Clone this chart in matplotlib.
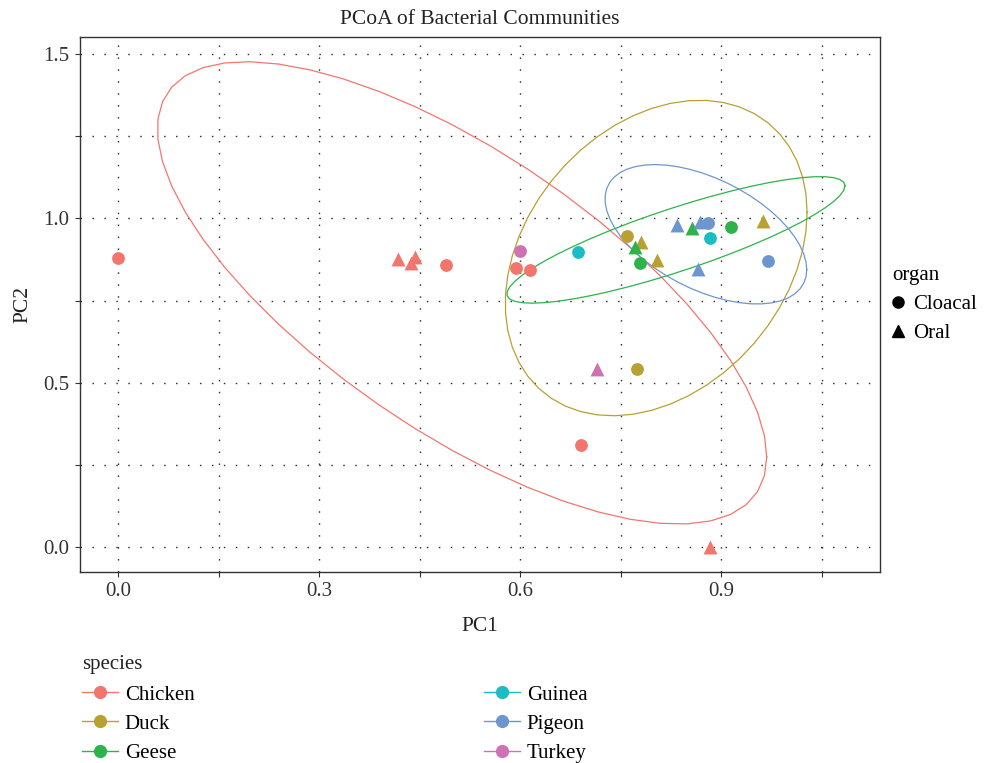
import numpy as np
import matplotlib
matplotlib.use("Agg")
import matplotlib.pyplot as plt
from matplotlib.lines import Line2D

plt.rcParams['font.family'] = ['Liberation Serif', 'DejaVu Serif']

# datos
species = ['Chicken'] * 9 + ['Duck'] * 5 + ['Geese'] * 4 + ['Guinea'] * 2 + ['Pigeon'] * 5 + ['Turkey'] * 2
organ = ['Cloacal', 'Oral', 'Oral', 'Oral', 'Cloacal', 'Cloacal', 'Cloacal', 'Cloacal', 'Oral',
         'Cloacal', 'Oral', 'Oral', 'Oral', 'Cloacal',
         'Oral', 'Cloacal', 'Oral', 'Cloacal',
         'Cloacal', 'Cloacal',
         'Oral', 'Oral', 'Cloacal', 'Oral', 'Cloacal',
         'Cloacal', 'Oral']
pc1 = [0.000, 0.418, 0.437, 0.443, 0.489, 0.594, 0.615, 0.691, 0.884,
       0.759, 0.781, 0.804, 0.963, 0.775,
       0.771, 0.779, 0.857, 0.914,
       0.687, 0.884,
       0.834, 0.869, 0.881, 0.865, 0.970,
       0.599, 0.714]
pc2 = [0.879, 0.877, 0.865, 0.884, 0.857, 0.849, 0.843, 0.311, 0.001,
       0.947, 0.929, 0.873, 0.992, 0.541,
       0.914, 0.863, 0.970, 0.975,
       0.897, 0.941,
       0.980, 0.990, 0.987, 0.846, 0.871,
       0.900, 0.541]

especies = ['Chicken', 'Duck', 'Geese', 'Guinea', 'Pigeon', 'Turkey']
colores = ['#F3766E', '#B8A033', '#2DB34A', '#1CBDC2', '#6D96CF', '#CF72B3']
marcadores = {'Cloacal': 'o', 'Oral': '^'}

pc1 = np.array(pc1)
pc2 = np.array(pc2)
species = np.array(species)
organ = np.array(organ)


# cov.trob de MASS (como stat_ellipse tipo "t")
def cov_trob(x, nu=5, maxit=25, tol=0.01):
    n, p = x.shape
    wt = np.ones(n)
    loc = x.mean(axis=0)
    w = np.sqrt(wt)
    for it in range(maxit):
        w0 = w
        X = x - loc
        U, d, Vt = np.linalg.svd(np.sqrt(w / w.sum())[:, None] * X, full_matrices=False)
        wX = X @ Vt.T @ np.diag(1 / d)
        Q = (wX ** 2).sum(axis=1)
        w = (wt * (nu + p)) / (nu + Q)
        loc = (w[:, None] * x).sum(axis=0) / w.sum()
        if np.all(np.abs(w - w0) < tol):
            break
    Xw = np.sqrt(w)[:, None] * X
    cov = Xw.T @ Xw / wt.sum()
    return cov, loc


def elipse(x, y, level=0.95, segments=51):
    datos = np.column_stack([x, y])
    cov, centro = cov_trob(datos)
    dfd = len(x) - 1
    # cuantil de F(2, dfd)
    qf = dfd / 2 * ((1 - level) ** (-2 / dfd) - 1)
    radio = np.sqrt(2 * qf)
    R = np.linalg.cholesky(cov).T
    ang = np.arange(segments + 1) * 2 * np.pi / segments
    circ = np.column_stack([np.cos(ang), np.sin(ang)])
    return centro + radio * circ @ R


fig = plt.figure(figsize=(9.84, 7.63), dpi=100)
ax = fig.add_axes([80 / 984, 1 - 572 / 763, 800 / 984, 535 / 763])

for sp, col in zip(especies, colores):
    m = species == sp
    if m.sum() >= 3:
        e = elipse(pc1[m], pc2[m])
        ax.plot(e[:, 0], e[:, 1], color=col, lw=0.9, zorder=2)
    for org, mk in marcadores.items():
        mm = m & (organ == org)
        if mm.any():
            ax.scatter(pc1[mm], pc2[mm], color=col, marker=mk, s=85 if mk == 'o' else 100,
                       linewidths=0, zorder=3)

ax.set_xlim(-0.057, 1.137)
ax.set_ylim(-0.076, 1.552)
ax.set_xticks([0.0, 0.3, 0.6, 0.9])
ax.set_xticklabels(['0.0', '0.3', '0.6', '0.9'])
ax.set_yticks([0.0, 0.5, 1.0, 1.5])
ax.set_yticklabels(['0.0', '0.5', '1.0', '1.5'])
ax.set_xticks([0.15, 0.45, 0.75, 1.05], minor=True)
ax.set_yticks([0.25, 0.75, 1.25], minor=True)
ax.tick_params(which='both', length=3.5, width=0.8, color='#333333', labelsize=15,
               labelcolor='#333333', pad=4)
ax.grid(True, which='both', color='#333333', lw=1.0, linestyle=(0, (1.1, 7.5)))
ax.set_axisbelow(True)
for s in ax.spines.values():
    s.set_color('#333333')
    s.set_linewidth(1.0)

ax.set_xlabel('PC1', fontsize=15.5, color='#222222', labelpad=11)
ax.set_ylabel('PC2', fontsize=15.5, color='#222222', labelpad=8)
ax.set_title('PCoA of Bacterial Communities', fontsize=15.5, color='#222222', pad=9)

# leyenda organ
h_org = [Line2D([], [], color='black', marker=marcadores[o], linestyle='none', markersize=8)
         for o in ['Cloacal', 'Oral']]
leg1 = fig.legend(h_org, ['Cloacal', 'Oral'], title='organ', loc='upper left',
                  bbox_to_anchor=(892 / 984, 1 - 266 / 763), frameon=False, fontsize=15,
                  title_fontsize=15, alignment='left', handlelength=0.6, handletextpad=0.4,
                  borderpad=0, borderaxespad=0, labelspacing=0.45)

# leyenda species
fig.text(82 / 984, 1 - 664 / 763, 'species', fontsize=15, va='center', ha='left', color='#222222')
h_sp = [Line2D([], [], color=c, marker='o', markersize=8.5, lw=1.0) for c in colores]
leg2 = fig.legend(h_sp[:3], especies[:3], loc='upper left', bbox_to_anchor=(82 / 984, 1 - 685 / 763),
                  frameon=False, fontsize=15, handlelength=1.75, handletextpad=0.3,
                  borderpad=0, borderaxespad=0, labelspacing=0.46)
leg3 = fig.legend(h_sp[3:], especies[3:], loc='upper left', bbox_to_anchor=(484 / 984, 1 - 685 / 763),
                  frameon=False, fontsize=15, handlelength=1.75, handletextpad=0.3,
                  borderpad=0, borderaxespad=0, labelspacing=0.46)

fig.savefig('out.png', dpi=100)
